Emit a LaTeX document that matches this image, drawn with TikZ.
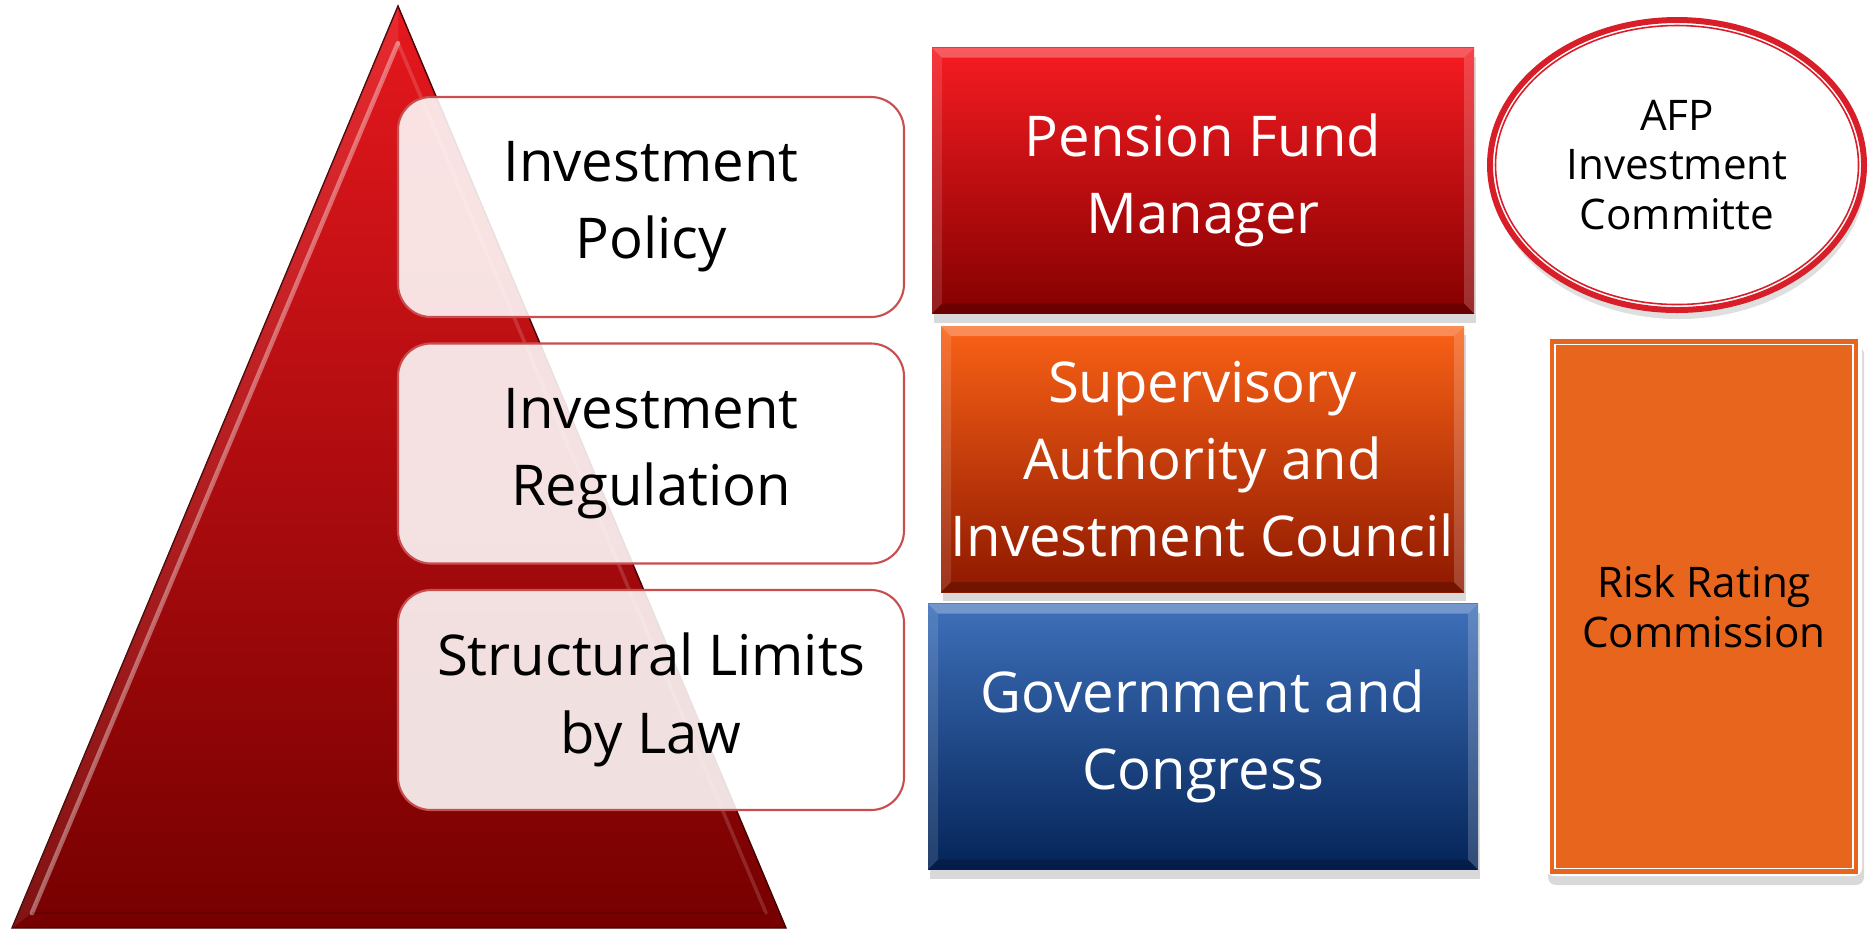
\documentclass[tikz,border=0pt]{standalone}
\usepackage{fontspec}
\setmainfont{Open Sans}
\usetikzlibrary{shapes.geometric,shadows}

\definecolor{pyrtop}{RGB}{230,24,30}
\definecolor{pyrmid}{RGB}{192,0,4}
\definecolor{pyrbot}{RGB}{118,0,0}
\definecolor{levelline}{RGB}{200,78,80}
\definecolor{pfmtop}{RGB}{246,28,34}
\definecolor{pfmmid}{RGB}{212,0,8}
\definecolor{pfmbot}{RGB}{132,0,0}
\definecolor{suptop}{RGB}{250,98,22}
\definecolor{supmid}{RGB}{222,66,4}
\definecolor{supbot}{RGB}{142,24,0}
\definecolor{govtop}{RGB}{62,112,186}
\definecolor{govmid}{RGB}{24,70,140}
\definecolor{govbot}{RGB}{4,36,88}
\definecolor{afpred}{RGB}{216,30,40}
\definecolor{riskorange}{RGB}{232,101,30}

\begin{document}
\begin{tikzpicture}[
    level/.style={draw=levelline, line width=0.6pt, fill=white, fill opacity=0.88, text opacity=1,
      rounded corners=0.33cm, minimum width=5.06cm, minimum height=2.20cm, inner sep=0pt,
      align=center, font=\fontsize{16}{22}\selectfont},
    actor/.style={minimum height=2.66cm, inner sep=0pt, align=center, text=white,
      font=\fontsize{16}{22}\selectfont,
      drop shadow={shadow xshift=0.02cm, shadow yshift=-0.09cm, opacity=0.3},
      path picture={
        \fill[white,opacity=0.28] (path picture bounding box.north west) -- (path picture bounding box.north east)
          -- ([xshift=-0.1cm,yshift=-0.1cm]path picture bounding box.north east)
          -- ([xshift=0.1cm,yshift=-0.1cm]path picture bounding box.north west) -- cycle;
        \fill[white,opacity=0.12] (path picture bounding box.north west) -- ([xshift=0.1cm,yshift=-0.1cm]path picture bounding box.north west)
          -- ([xshift=0.1cm,yshift=0.1cm]path picture bounding box.south west) -- (path picture bounding box.south west) -- cycle;
        \fill[white,opacity=0.18] (path picture bounding box.north east) -- ([xshift=-0.1cm,yshift=-0.1cm]path picture bounding box.north east)
          -- ([xshift=-0.1cm,yshift=0.1cm]path picture bounding box.south east) -- (path picture bounding box.south east) -- cycle;
        \fill[black,opacity=0.2] (path picture bounding box.south west) -- (path picture bounding box.south east)
          -- ([xshift=-0.1cm,yshift=0.1cm]path picture bounding box.south east)
          -- ([xshift=0.1cm,yshift=0.1cm]path picture bounding box.south west) -- cycle;
      }},
    small/.style={font=\fontsize{12}{14.2}\selectfont, align=center, inner sep=0pt}
  ]
  \useasboundingbox (0,0) rectangle (18.68,-9.31);

  % pyramid with a narrow bevel
  \shade[top color=pyrtop, middle color=pyrmid, bottom color=pyrbot, draw=pyrbot!60!black, line width=0.4pt]
    (3.98,-0.06) -- (0.12,-9.28) -- (7.86,-9.28) -- cycle;
  \fill[white, opacity=0.08] (3.98,-0.06) -- (0.12,-9.28) -- (0.32,-9.13) -- (3.98,-0.43) -- cycle;
  \draw[white, opacity=0.38, line width=1.3pt, line cap=round] (3.98,-0.43) -- (0.32,-9.13);
  \draw[white, opacity=0.15, line width=1pt, line cap=round] (3.98,-0.43) -- (7.66,-9.13);
  \draw[black, opacity=0.12, line width=0.8pt] (0.32,-9.13) -- (7.66,-9.13);

  % levels on the pyramid
  \node[level] (policy)     at (6.51,-2.07)  {Investment\\Policy};
  \node[level] (regulation) at (6.51,-4.535) {Investment\\Regulation};
  \node[level] (limits)     at (6.51,-7.00)  {Structural Limits\\by Law};

  % who is in charge of each level
  \node[actor, minimum width=5.42cm, top color=pfmtop, middle color=pfmmid, bottom color=pfmbot]
    (manager) at (12.03,-1.805) {Pension Fund\\Manager};
  \node[actor, minimum width=5.23cm, top color=suptop, middle color=supmid, bottom color=supbot]
    (supervisor) at (12.025,-4.59) {Supervisory\\Authority and\\Investment Council};
  \node[actor, minimum width=5.50cm, top color=govtop, middle color=govmid, bottom color=govbot]
    (congress) at (12.03,-7.365) {Government and\\Congress};

  % committee and commission
  \node[small, ellipse, draw=afpred, line width=1.7pt, fill=white, minimum width=3.74cm, minimum height=2.90cm,
    drop shadow={shadow xshift=0.02cm, shadow yshift=-0.09cm, opacity=0.25}]
    (committee) at (16.77,-1.65) {AFP\\Investment\\Committe};
  \draw[afpred, line width=0.45pt] (committee.center) ellipse [x radius=1.815cm, y radius=1.395cm];

  \node[fill=white, rounded corners=0.08cm, minimum width=3.16cm, minimum height=5.39cm,
    drop shadow={shadow xshift=0.02cm, shadow yshift=-0.09cm, opacity=0.3}]
    (riskmat) at (17.04,-6.065) {};
  \node[small, fill=riskorange, draw=riskorange, double=white, double distance=0.45pt, line width=1.3pt,
    minimum width=2.98cm, minimum height=5.24cm]
    (risk) at (riskmat.center) {Risk Rating\\Commission};
\end{tikzpicture}
\end{document}
